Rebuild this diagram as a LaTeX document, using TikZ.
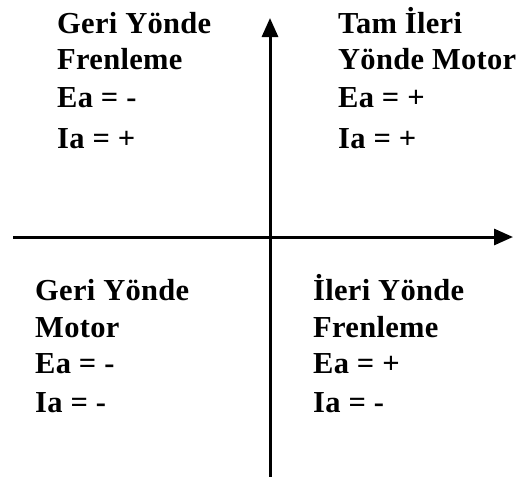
\documentclass[tikz,border=0pt]{standalone}
\usepackage{fontspec}
\setmainfont{Liberation Serif}[LetterSpace=1]
\usetikzlibrary{arrows.meta}

\begin{document}
\begin{tikzpicture}[x=1pt, y=-1pt,
  axis/.style={line width=3pt, -{Triangle[length=19pt, width=16pt]}},
  lbl/.style={anchor=base west, inner sep=0pt, font=\fontsize{30.5}{36}\selectfont\bfseries}]
\useasboundingbox (0,0) rectangle (523,477);
% axes
\coordinate (xl) at (13,237); \coordinate (xr) at (513,237);
\coordinate (yb) at (270,477); \coordinate (yt) at (270,18);
\draw[axis] (xl) -- (xr);
\draw[axis] (yb) -- (yt);
% quadrant labels
\foreach \y/\t [count=\k] in {33/Geri Yönde, 69/Frenleme, 107/{Ea = -}, 148/{Ia = +}}{
  \node[lbl] (tl\k) at (57,\y) {\t};
}
\foreach \y/\t [count=\k] in {33/Tam İleri, 69/Yönde Motor, 107/{Ea = +}, 148/{Ia = +}}{
  \node[lbl] (tr\k) at (338,\y) {\t};
}
\foreach \y/\t [count=\k] in {300/Geri Yönde, 337/Motor, 373/{Ea = -}, 412/{Ia = -}}{
  \node[lbl] (bl\k) at (35,\y) {\t};
}
\foreach \y/\t [count=\k] in {300/İleri Yönde, 337/Frenleme, 373/{Ea = +}, 412/{Ia = -}}{
  \node[lbl] (br\k) at (313,\y) {\t};
}
\end{tikzpicture}
\end{document}
